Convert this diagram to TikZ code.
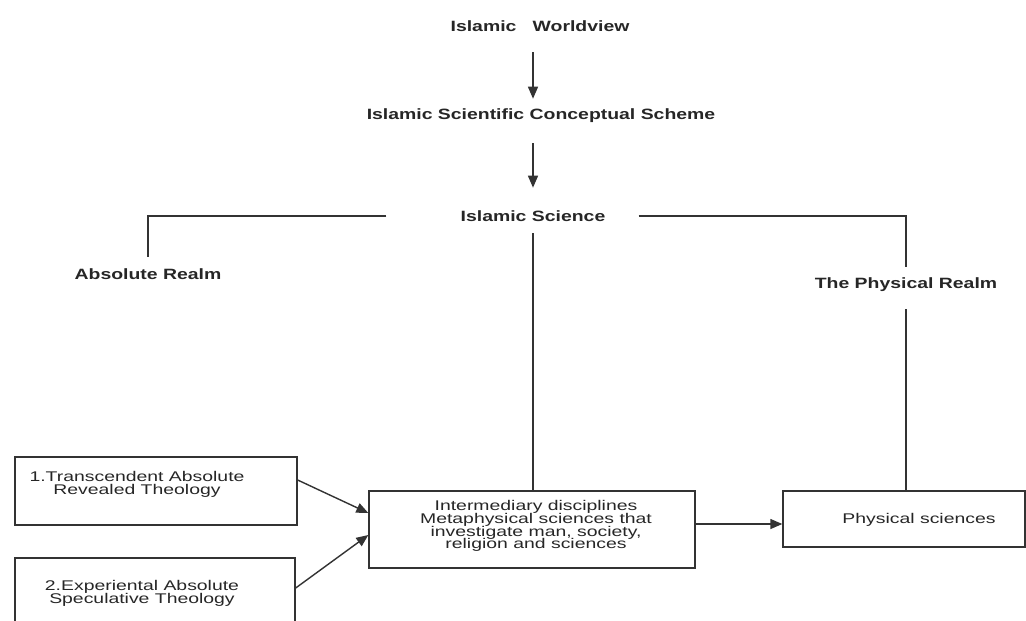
\documentclass[tikz,border=0pt]{standalone}
\usepackage{fontspec}
\setmainfont{Liberation Sans}
\newfontfamily\realmfont[FakeStretch=1.3]{Liberation Sans}
\newfontfamily\boxfont[FakeStretch=1.38]{Liberation Sans}
\newcommand\tightlines{\lineskiplimit=-20pt\relax}
\usetikzlibrary{positioning,arrows.meta}

\tikzset{
  head/.style={font=\realmfont\bfseries\fontsize{8.5}{10}\selectfont, text=black!85, inner sep=0pt},
  box/.style={draw=black!80, thick, rectangle, inner sep=0pt},
  boxtext/.style={font=\boxfont\fontsize{8}{7.3}\selectfont\tightlines, align=center, text=black!85, inner sep=0pt},
  arr/.style={thick, draw=black!80, -{Triangle[length=0.24cm, width=0.2cm]}},
  link/.style={thick, draw=black!80},
}

\begin{document}
\begin{tikzpicture}[x=0.02cm, y=-0.02cm]
    \useasboundingbox (0,0) rectangle (1026,620);

    % Worldview, scheme and science
    \node [head] (worldview) at (540,26) {Islamic~~~Worldview};
    \node [head] (scheme) at (541,116) {Islamic Scientific Conceptual Scheme};
    \node [head] (science) at (533,216) {Islamic Science};
    \draw [arr, shorten <=0.41cm, shorten >=0.2cm] (worldview.south -| science) -- (scheme.north -| science);
    \draw [arr, shorten <=0.4cm, shorten >=0.45cm] (scheme.south -| science) -- (science.north);

    % The two realms
    \node [head] (absolute) at (148,274) {Absolute Realm};
    \node [head] (physrealm) at (906,285) {The Physical Realm};
    \draw [link, shorten >=0.23cm] ([xshift=-1.48cm]science.west) -| (absolute.north);
    \draw [link, shorten >=0.22cm] ([xshift=0.66cm]science.east) -| (physrealm.north);

    % Boxes
    \node [box, minimum width=5.64cm, minimum height=1.36cm] (trans) at (156,491) {};
    \node [boxtext] (transtext) at (137,484.5) {1.Transcendent Absolute\\Revealed Theology};
    \node [box, minimum width=5.6cm, minimum height=1.28cm] (exper) at (155,590) {};
    \node [boxtext] (expertext) at (142,593.5) {2.Experiental Absolute\\Speculative Theology};
    \node [box, minimum width=6.52cm, minimum height=1.54cm] (inter) at (532,529.5) {};
    \node [boxtext] (intertext) at (536,526) {Intermediary disciplines\\Metaphysical sciences that\\investigate man, society,\\religion and sciences};
    \node [box, minimum width=4.84cm, minimum height=1.12cm] (physsci) at (904,519) {};
    \node [boxtext] (physscitext) at (919,519.5) {Physical sciences};

    % Connectors
    \draw [link, shorten <=0.23cm] (science.south) -- (science.south |- inter.north);
    \draw [link, shorten <=0.34cm] (physrealm.south) -- (physrealm.south |- physsci.north);
    \draw [arr] ([yshift=0.22cm]trans.east) -- ([yshift=0.33cm]inter.west);
    \draw [arr] ([yshift=0.04cm]exper.east) -- ([yshift=-0.11cm]inter.west);
    \draw [arr] ([yshift=0.11cm]inter.east) -- ([yshift=0.11cm]inter.east -| physsci.west);
\end{tikzpicture}
\end{document}
